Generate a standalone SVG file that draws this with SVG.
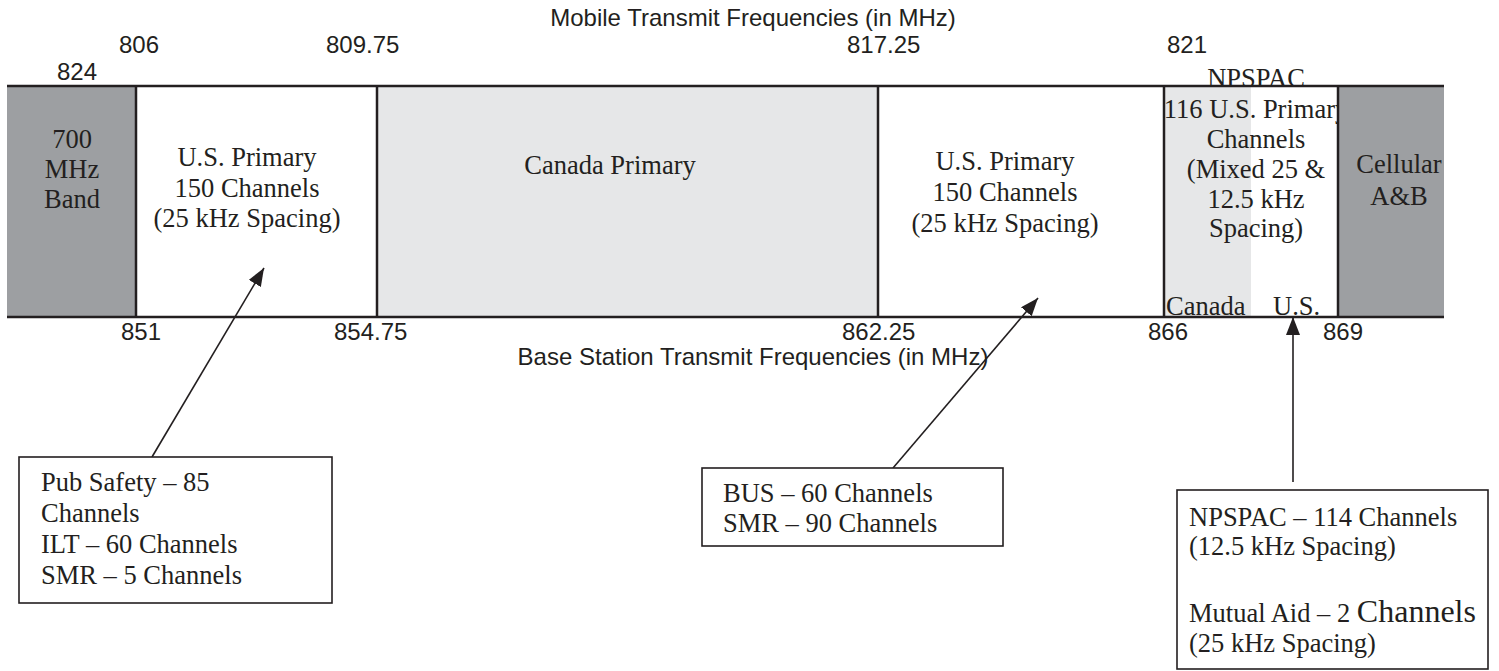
<svg xmlns="http://www.w3.org/2000/svg" width="1499" height="671" viewBox="0 0 1499 671">
<defs>
<style>
.sans{font-family:"Liberation Sans",Arial,sans-serif;font-size:24px;fill:#231f20}
.serif{font-family:"Liberation Serif","Times New Roman",serif;font-size:26.5px;fill:#231f20}
.mid{text-anchor:middle}
.band{stroke:#231f20;stroke-width:2.5;fill:none}
.box{stroke:#231f20;stroke-width:1.6;fill:#ffffff}
.conn{stroke:#231f20;stroke-width:1.6;fill:none}
</style>
<marker id="ahL" viewBox="0 0 18 14" refX="18" refY="7" markerWidth="18" markerHeight="14" markerUnits="userSpaceOnUse" orient="auto">
<path d="M0,0 L18,7 L0,14 Z" fill="#231f20"/>
</marker>
</defs>
<rect width="1499" height="671" fill="#ffffff"/>

<g id="axis-labels">
<text class="sans mid" x="753" y="26">Mobile Transmit Frequencies (in MHz)</text>
<text class="sans" x="119" y="53">806</text>
<text class="sans" x="57" y="80">824</text>
<text class="sans" x="326" y="53">809.75</text>
<text class="sans" x="847" y="53">817.25</text>
<text class="sans" x="1167" y="53">821</text>
<text class="sans" x="121" y="340">851</text>
<text class="sans" x="334" y="340">854.75</text>
<text class="sans" x="842" y="340">862.25</text>
<text class="sans" x="1148" y="340">866</text>
<text class="sans" x="1323" y="340">869</text>
<text class="sans mid" x="753" y="365">Base Station Transmit Frequencies (in MHz)</text>
</g>

<g id="band-700">
<rect x="7" y="86" width="129" height="231" fill="#9d9fa2"/>
<text class="serif mid" x="72" y="148">700</text>
<text class="serif mid" x="72" y="178">MHz</text>
<text class="serif mid" x="72" y="208">Band</text>
</g>

<g id="band-us1">
<text class="serif mid" x="247" y="166">U.S. Primary</text>
<text class="serif mid" x="247" y="197">150 Channels</text>
<text class="serif mid" x="247" y="227">(25 kHz Spacing)</text>
</g>

<g id="band-canada">
<rect x="377" y="86" width="501" height="231" fill="#e6e7e8"/>
<text class="serif mid" x="610" y="174">Canada Primary</text>
</g>

<g id="band-us2">
<text class="serif mid" x="1005" y="170">U.S. Primary</text>
<text class="serif mid" x="1005" y="201">150 Channels</text>
<text class="serif mid" x="1005" y="232">(25 kHz Spacing)</text>
</g>

<g id="band-npspac">
<rect x="1164" y="86" width="87" height="231" fill="#e6e7e8"/>
<text class="serif mid" x="1256" y="87">NPSPAC</text>
<text class="serif mid" x="1256" y="118">116 U.S. Primary</text>
<text class="serif mid" x="1256" y="148">Channels</text>
<text class="serif mid" x="1256" y="178">(Mixed 25 &amp;</text>
<text class="serif mid" x="1256" y="208">12.5 kHz</text>
<text class="serif mid" x="1256" y="237">Spacing)</text>
<text class="serif" x="1166" y="315">Canada</text>
<text class="serif" x="1273" y="315">U.S.</text>
</g>

<g id="band-cellular">
<rect x="1338" y="86" width="106" height="231" fill="#9d9fa2"/>
<text class="serif mid" x="1399" y="173">Cellular</text>
<text class="serif mid" x="1399" y="205">A&amp;B</text>
</g>

<g id="band-lines">
<line class="band" x1="7" y1="86" x2="1444" y2="86"/>
<line class="band" x1="7" y1="317" x2="1444" y2="317"/>
<line class="band" x1="136" y1="86" x2="136" y2="317"/>
<line class="band" x1="377" y1="86" x2="377" y2="317"/>
<line class="band" x1="878" y1="86" x2="878" y2="317"/>
<line class="band" x1="1164" y1="86" x2="1164" y2="317"/>
<line class="band" x1="1338" y1="86" x2="1338" y2="317"/>
</g>

<g id="connectors">
<line class="conn" x1="152" y1="457" x2="264" y2="268" marker-end="url(#ahL)"/>
<line class="conn" x1="893" y1="468" x2="1038" y2="298" marker-end="url(#ahL)"/>
<line class="conn" x1="1293" y1="482" x2="1293" y2="317" marker-end="url(#ahL)"/>
</g>

<g id="box-pub-safety">
<rect class="box" x="19" y="457" width="313" height="146"/>
<text class="serif" x="41" y="491">Pub Safety – 85</text>
<text class="serif" x="41" y="522">Channels</text>
<text class="serif" x="41" y="553">ILT – 60 Channels</text>
<text class="serif" x="41" y="584">SMR – 5 Channels</text>
</g>

<g id="box-bus">
<rect class="box" x="702" y="468" width="301" height="78"/>
<text class="serif" x="723" y="502">BUS – 60 Channels</text>
<text class="serif" x="723" y="532">SMR – 90 Channels</text>
</g>

<g id="box-npspac">
<rect class="box" x="1177" y="490" width="311" height="179"/>
<text class="serif" x="1189" y="526">NPSPAC – 114 Channels</text>
<text class="serif" x="1189" y="555">(12.5 kHz Spacing)</text>
<text class="serif" x="1189" y="622">Mutual Aid – 2 <tspan font-size="32">Channels</tspan></text>
<text class="serif" x="1189" y="652">(25 kHz Spacing)</text>
</g>
</svg>
